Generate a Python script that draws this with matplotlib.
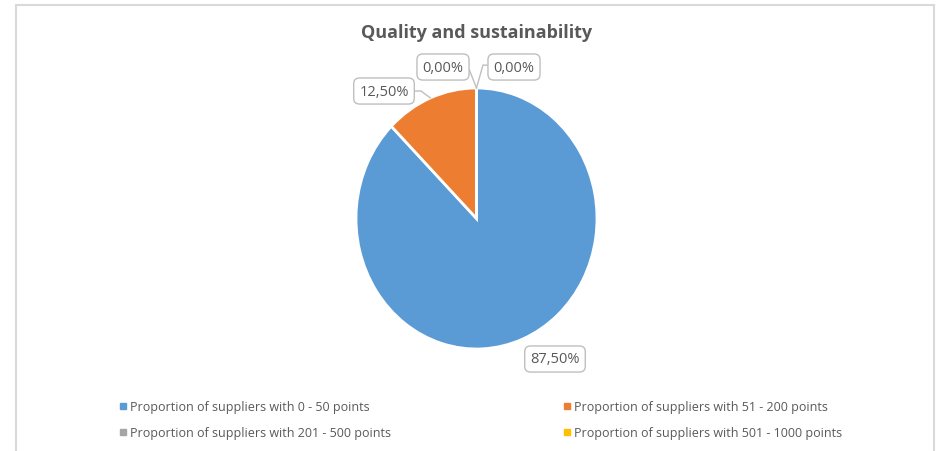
import numpy as np
import matplotlib.pyplot as plt
from matplotlib.lines import Line2D

plt.rcParams['font.family'] = ['Open Sans', 'DejaVu Sans']

title = 'Quality and sustainability'
categories = [
    'Proportion of suppliers with 0 - 50 points',
    'Proportion of suppliers with 51 - 200 points',
    'Proportion of suppliers with 201 - 500 points',
    'Proportion of suppliers with 501 - 1000 points',
]
shares = [87.5, 12.5, 0.0, 0.0]
colors = ['#5B9BD5', '#ED7D31', '#A5A5A5', '#FFC000']

# label box centres, in pixels from the top-left corner
label_pos = [(555, 360), (384, 92), (443, 68), (514, 68)]
# bend of each leader line (None = no leader drawn)
leader_elbow = [None, (421, 92), (469, 70), (483, 66)]

W, H = 937, 452
# pie bounding box in pixels (the plot is stretched vertically)
left, right, top, bottom = 356, 597, 89, 350
cx, cy = (left + right) / 2, (top + bottom) / 2
rx, ry = (right - left) / 2, (bottom - top) / 2

fig = plt.figure(figsize=(W / 100, H / 100), dpi=100)

pie_ax = fig.add_axes([left / W, 1 - bottom / H, (right - left) / W, (bottom - top) / H])
pie_ax.pie(shares, colors=colors, startangle=90, counterclock=False, radius=1,
           wedgeprops=dict(edgecolor='white', linewidth=2))
pie_ax.set_aspect('auto')
pie_ax.set_xlim(-1, 1)
pie_ax.set_ylim(-1, 1)
pie_ax.axis('off')

# overlay in pixel coordinates for frame, title and labels
ax = fig.add_axes([0, 0, 1, 1], zorder=3)
ax.set_xlim(0, W)
ax.set_ylim(H, 0)
ax.axis('off')
ax.patch.set_alpha(0)

ax.plot([16.5, 16.5, 934.5, 934.5], [H + 5, 5.5, 5.5, H + 5],
        color='#d9d9d9', lw=1.5, solid_joinstyle='miter')

total = sum(shares)
start = 90.0
for val, (lx, ly), elbow in zip(shares, label_pos, leader_elbow):
    span = 360.0 * val / total
    mid = np.deg2rad(start - span / 2)
    start -= span
    if elbow is not None:
        px = cx + rx * np.cos(mid)
        py = cy - ry * np.sin(mid)
        ex, ey = elbow
        ax.plot([lx, ex, px], [ly, ey, py], color='#bfbfbf', lw=1, zorder=1)
    ax.text(lx, ly, f'{val:.2f}%'.replace('.', ','), ha='center', va='center',
            fontsize=10.5, color='#595959', zorder=5,
            bbox=dict(boxstyle='round,pad=0.38,rounding_size=0.4',
                      fc='white', ec='#bfbfbf', lw=1))

ax.text(cx, 33, title, ha='center', va='center', fontsize=13,
        fontweight='bold', color='#595959')

# legend is filled column by column, so order entries row-wise
order = [0, 2, 1, 3]
handles = [Line2D([], [], marker='s', ls='', color=colors[i], markersize=4.5) for i in order]
fig.legend(handles, [categories[i] for i in order], ncol=2, loc='upper left',
           bbox_to_anchor=(108 / W, 1 - 390 / H), frameon=False,
           fontsize=9, labelcolor='#595959', handlelength=0.6,
           handletextpad=0.3, columnspacing=13.7, labelspacing=1.05)

fig.savefig('out.png', dpi=100)
